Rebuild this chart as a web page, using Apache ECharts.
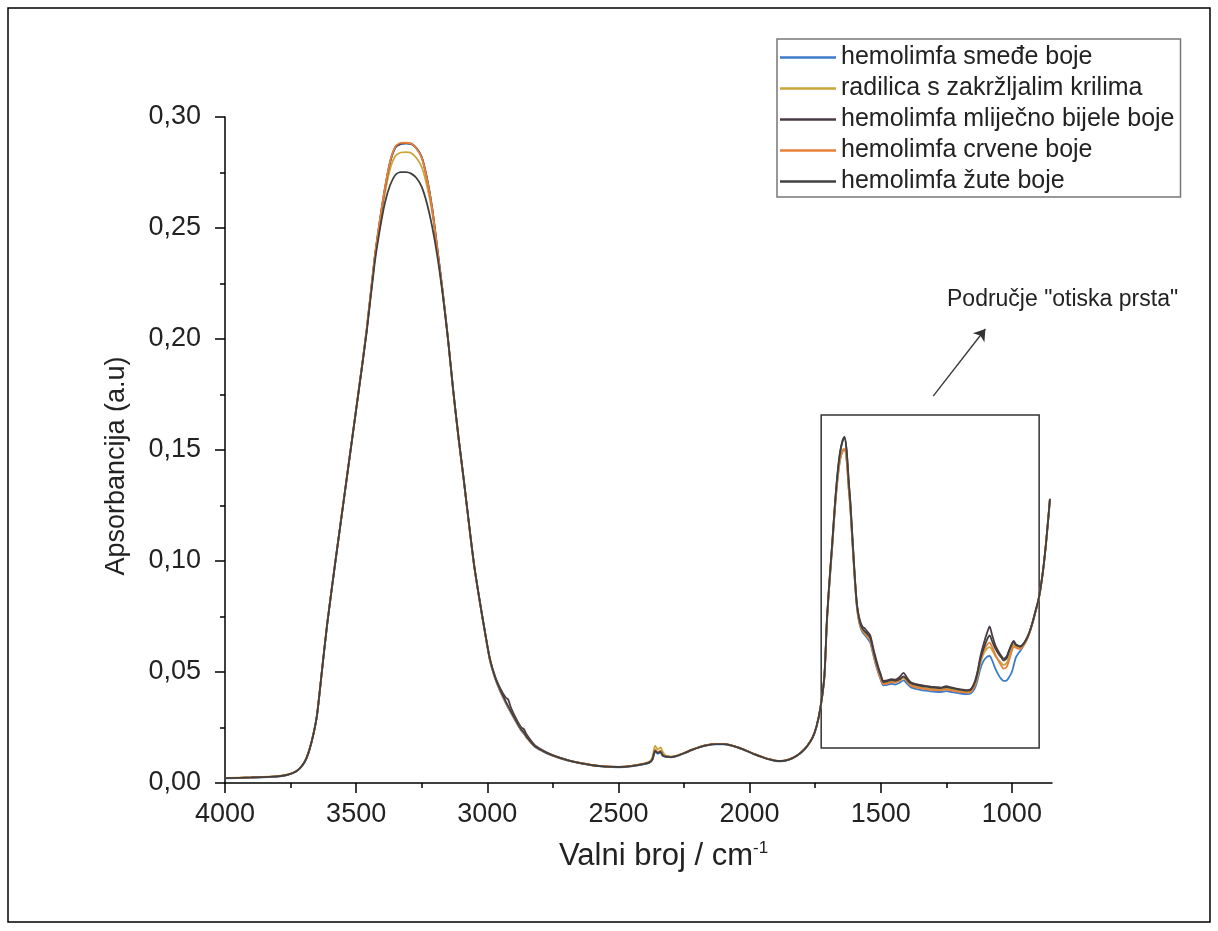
<!DOCTYPE html>
<html>
<head>
<meta charset="utf-8">
<script src="https://cdn.jsdelivr.net/npm/echarts@6/dist/echarts.min.js"></script>
<style>
html,body{margin:0;padding:0;background:#fff;}
#chart{width:1218px;height:931px;}
</style>
</head>
<body>
<div id="chart"></div>
<script>
const seriesNames = ['hemolimfa smeđe boje','radilica s zakržljalim krilima','hemolimfa mliječno bijele boje','hemolimfa crvene boje','hemolimfa žute boje'];
const seriesColors = ['#3d7cc9','#c9a53c','#4b3a45','#e8803a','#404040'];
const xTickValues = [1000,1500,2000,2500,3000,3500,4000];
const xMinorTickValues = [1250,1750,2250,2750,3250,3750];

const wavenumbers = [
4000,3900,3800,3760,3730,3710,3690,3670,3650,3630,
3610,3580,3550,3520,3490,3460,3430,3410,3390,3370,
3350,3330,3310,3290,3270,3250,3230,3210,3190,3170,
3150,3130,3110,3090,3070,3050,3030,3010,2990,2970,
2950,2930,2920,2910,2890,2870,2860,2850,2820,2790,
2760,2720,2680,2640,2600,2550,2500,2450,2400,2380,
2370,2360,2350,2340,2330,2320,2300,2280,2250,2220,
2190,2160,2130,2100,2070,2040,2010,1980,1950,1920,
1900,1880,1860,1840,1820,1800,1780,1760,1745,1730,
1715,1705,1695,1685,1675,1665,1655,1645,1638,1630,
1622,1616,1605,1597,1590,1580,1570,1560,1550,1540,
1525,1510,1500,1490,1475,1460,1445,1430,1413,1400,
1387,1370,1350,1330,1310,1290,1270,1250,1235,1210,
1190,1170,1155,1140,1130,1120,1108,1095,1085,1075,
1063,1050,1040,1032,1020,1010,1000,993,985,975,
968,960,950,940,930,920,910,900,892,880,
870,860,855];

const smedje = [
0.0021,0.0024,0.0029,0.0037,0.0051,0.0071,0.0109,0.0184,0.0298,0.0508,
0.0718,0.0988,0.1248,0.1508,0.1768,0.2038,0.2358,0.2528,0.2678,0.2798,
0.2862,0.2878,0.2880,0.2878,0.2858,0.2818,0.2722,0.2587,0.2402,0.2212,
0.2002,0.1767,0.1557,0.1367,0.1167,0.0977,0.0825,0.0684,0.0552,0.0470,
0.0410,0.0360,0.0338,0.0316,0.0274,0.0235,0.0221,0.0204,0.0164,0.0143,
0.0126,0.0110,0.0097,0.0087,0.0079,0.0073,0.0071,0.0075,0.0085,0.0093,
0.0106,0.0140,0.0132,0.0137,0.0121,0.0118,0.0116,0.0120,0.0133,0.0148,
0.0161,0.0170,0.0174,0.0174,0.0168,0.0157,0.0143,0.0128,0.0115,0.0104,
0.0099,0.0098,0.0101,0.0109,0.0122,0.0140,0.0166,0.0203,0.0252,0.0335,
0.0472,0.0728,0.0905,0.1062,0.1228,0.1362,0.1455,0.1495,0.1500,0.1455,
0.1325,0.1240,0.1025,0.0880,0.0780,0.0712,0.0680,0.0665,0.0650,0.0632,
0.0560,0.0498,0.0465,0.0440,0.0442,0.0447,0.0443,0.0450,0.0462,0.0448,
0.0433,0.0425,0.0420,0.0416,0.0413,0.0411,0.0410,0.0414,0.0411,0.0406,
0.0402,0.0400,0.0405,0.0430,0.0468,0.0515,0.0550,0.0568,0.0572,0.0552,
0.0515,0.0485,0.0468,0.0460,0.0462,0.0478,0.0500,0.0530,0.0565,0.0585,
0.0595,0.0610,0.0630,0.0655,0.0686,0.0726,0.0771,0.0816,0.0865,0.0966,
0.1076,0.1206,0.1276];

const radilica = [
0.0023,0.0026,0.0031,0.0039,0.0053,0.0073,0.0111,0.0186,0.0301,0.0511,
0.0721,0.0991,0.1251,0.1511,0.1770,0.2036,0.2352,0.2518,0.2660,0.2768,
0.2825,0.2840,0.2842,0.2838,0.2815,0.2775,0.2690,0.2570,0.2395,0.2210,
0.2003,0.1768,0.1558,0.1368,0.1168,0.0978,0.0827,0.0686,0.0555,0.0473,
0.0414,0.0364,0.0341,0.0319,0.0277,0.0238,0.0224,0.0206,0.0166,0.0145,
0.0128,0.0111,0.0098,0.0088,0.0080,0.0074,0.0072,0.0077,0.0088,0.0098,
0.0118,0.0168,0.0152,0.0160,0.0138,0.0124,0.0119,0.0122,0.0134,0.0149,
0.0162,0.0171,0.0175,0.0175,0.0169,0.0158,0.0144,0.0129,0.0116,0.0105,
0.0100,0.0099,0.0102,0.0110,0.0123,0.0141,0.0167,0.0204,0.0253,0.0336,
0.0474,0.0730,0.0908,0.1065,0.1232,0.1366,0.1458,0.1498,0.1502,0.1458,
0.1328,0.1243,0.1030,0.0885,0.0786,0.0718,0.0686,0.0672,0.0658,0.0642,
0.0570,0.0508,0.0475,0.0450,0.0452,0.0457,0.0453,0.0460,0.0472,0.0458,
0.0443,0.0436,0.0431,0.0427,0.0424,0.0422,0.0421,0.0425,0.0422,0.0417,
0.0413,0.0411,0.0416,0.0445,0.0485,0.0540,0.0582,0.0605,0.0612,0.0598,
0.0572,0.0552,0.0540,0.0532,0.0540,0.0570,0.0605,0.0625,0.0615,0.0608,
0.0607,0.0614,0.0631,0.0654,0.0686,0.0726,0.0771,0.0816,0.0865,0.0966,
0.1076,0.1206,0.1276];

const mlijecno = [
0.0022,0.0025,0.0030,0.0038,0.0052,0.0072,0.0110,0.0185,0.0300,0.0510,
0.0720,0.0990,0.1250,0.1510,0.1770,0.2040,0.2360,0.2530,0.2680,0.2800,
0.2865,0.2880,0.2882,0.2880,0.2860,0.2820,0.2725,0.2590,0.2405,0.2215,
0.2005,0.1770,0.1560,0.1370,0.1170,0.0980,0.0830,0.0690,0.0560,0.0480,
0.0425,0.0385,0.0375,0.0340,0.0290,0.0250,0.0242,0.0218,0.0172,0.0148,
0.0130,0.0113,0.0099,0.0089,0.0081,0.0075,0.0073,0.0077,0.0087,0.0095,
0.0110,0.0148,0.0138,0.0143,0.0124,0.0120,0.0118,0.0122,0.0135,0.0150,
0.0163,0.0172,0.0176,0.0176,0.0170,0.0159,0.0145,0.0130,0.0117,0.0106,
0.0101,0.0100,0.0103,0.0111,0.0124,0.0142,0.0168,0.0205,0.0255,0.0340,
0.0480,0.0740,0.0920,0.1080,0.1250,0.1390,0.1490,0.1545,0.1560,0.1500,
0.1360,0.1270,0.1050,0.0900,0.0800,0.0735,0.0705,0.0695,0.0680,0.0665,
0.0590,0.0525,0.0490,0.0460,0.0462,0.0468,0.0465,0.0475,0.0496,0.0475,
0.0455,0.0447,0.0442,0.0437,0.0434,0.0432,0.0430,0.0436,0.0432,0.0425,
0.0421,0.0418,0.0425,0.0462,0.0508,0.0570,0.0625,0.0675,0.0705,0.0665,
0.0620,0.0590,0.0572,0.0560,0.0570,0.0600,0.0628,0.0640,0.0625,0.0618,
0.0616,0.0622,0.0638,0.0660,0.0690,0.0730,0.0775,0.0820,0.0869,0.0970,
0.1080,0.1210,0.1280];

const crvene = [
0.0022,0.0025,0.0030,0.0038,0.0052,0.0072,0.0110,0.0185,0.0300,0.0510,
0.0722,0.0993,0.1253,0.1513,0.1773,0.2043,0.2363,0.2533,0.2683,0.2803,
0.2868,0.2883,0.2884,0.2880,0.2858,0.2816,0.2720,0.2585,0.2400,0.2210,
0.2000,0.1765,0.1555,0.1365,0.1165,0.0976,0.0826,0.0686,0.0555,0.0474,
0.0415,0.0366,0.0343,0.0321,0.0279,0.0240,0.0225,0.0207,0.0167,0.0146,
0.0129,0.0112,0.0099,0.0089,0.0081,0.0075,0.0073,0.0077,0.0087,0.0095,
0.0109,0.0150,0.0139,0.0145,0.0125,0.0121,0.0118,0.0122,0.0135,0.0150,
0.0163,0.0172,0.0176,0.0176,0.0170,0.0159,0.0145,0.0130,0.0117,0.0106,
0.0101,0.0100,0.0103,0.0111,0.0124,0.0142,0.0168,0.0205,0.0254,0.0338,
0.0476,0.0733,0.0910,0.1068,0.1235,0.1368,0.1460,0.1500,0.1505,0.1460,
0.1330,0.1245,0.1032,0.0888,0.0790,0.0722,0.0690,0.0676,0.0662,0.0646,
0.0568,0.0505,0.0470,0.0446,0.0448,0.0454,0.0452,0.0462,0.0478,0.0460,
0.0440,0.0432,0.0427,0.0423,0.0420,0.0418,0.0417,0.0421,0.0418,0.0413,
0.0409,0.0407,0.0412,0.0444,0.0490,0.0548,0.0595,0.0622,0.0632,0.0612,
0.0578,0.0548,0.0528,0.0515,0.0522,0.0555,0.0595,0.0615,0.0610,0.0604,
0.0604,0.0612,0.0630,0.0654,0.0686,0.0726,0.0771,0.0816,0.0865,0.0966,
0.1076,0.1206,0.1276];

const zute = [
0.0022,0.0025,0.0030,0.0038,0.0052,0.0072,0.0110,0.0185,0.0300,0.0510,
0.0720,0.0990,0.1250,0.1510,0.1768,0.2030,0.2335,0.2490,0.2615,0.2695,
0.2740,0.2752,0.2752,0.2745,0.2725,0.2685,0.2610,0.2505,0.2370,0.2200,
0.2000,0.1770,0.1560,0.1370,0.1170,0.0980,0.0828,0.0688,0.0558,0.0475,
0.0418,0.0368,0.0345,0.0323,0.0280,0.0240,0.0226,0.0208,0.0168,0.0146,
0.0129,0.0112,0.0098,0.0088,0.0080,0.0074,0.0072,0.0076,0.0086,0.0094,
0.0108,0.0145,0.0136,0.0141,0.0123,0.0119,0.0117,0.0121,0.0134,0.0149,
0.0162,0.0171,0.0175,0.0175,0.0169,0.0158,0.0144,0.0129,0.0116,0.0105,
0.0100,0.0099,0.0102,0.0110,0.0123,0.0141,0.0167,0.0204,0.0254,0.0338,
0.0478,0.0738,0.0918,0.1078,0.1248,0.1388,0.1488,0.1542,0.1555,0.1495,
0.1355,0.1265,0.1045,0.0895,0.0795,0.0728,0.0695,0.0682,0.0670,0.0655,
0.0582,0.0518,0.0484,0.0455,0.0458,0.0464,0.0460,0.0466,0.0480,0.0466,
0.0450,0.0443,0.0438,0.0434,0.0431,0.0429,0.0428,0.0432,0.0429,0.0423,
0.0419,0.0416,0.0422,0.0456,0.0500,0.0558,0.0605,0.0645,0.0665,0.0638,
0.0605,0.0580,0.0565,0.0552,0.0562,0.0595,0.0625,0.0636,0.0622,0.0616,
0.0614,0.0620,0.0636,0.0658,0.0689,0.0728,0.0773,0.0818,0.0867,0.0968,
0.1078,0.1208,0.1278];

// annotation: fingerprint region box and arrow (data coordinates)
const fingerprintBox = [[1727, 0.0158], [896, 0.1658]];
const arrowLine = [[1300, 0.1743], [1101, 0.2045]];
const annotationText = 'Područje "otiska prsta"';

const allSeries = [smedje, radilica, mlijecno, crvene, zute];
const FONT = '"Liberation Sans", Arial, sans-serif';

const chart = echarts.init(document.getElementById('chart'), null, {renderer: 'canvas'});

const series = allSeries.map((vals, i) => {
  const s = {
    name: seriesNames[i],
    type: 'line',
    xAxisIndex: 0,
    data: wavenumbers.map((w, k) => [w, vals[k]]),
    showSymbol: false,
    smooth: 0.25,
    lineStyle: {width: 1.8, color: seriesColors[i]},
    itemStyle: {color: seriesColors[i]},
    z: 2 + i
  };
  if (i === 0) {
    s.markArea = {
      silent: true,
      itemStyle: {color: 'rgba(0,0,0,0)', borderColor: '#333', borderWidth: 1.5},
      data: [[{coord: fingerprintBox[0]}, {coord: fingerprintBox[1]}]]
    };
    s.markLine = {
      silent: true,
      symbol: ['none', 'arrow'],
      symbolSize: 11,
      label: {show: false},
      lineStyle: {color: '#333', width: 1.3, type: 'solid'},
      data: [[{coord: arrowLine[0]}, {coord: arrowLine[1]}]]
    };
  }
  return s;
});

const option = {
  animation: false,
  backgroundColor: '#fff',
  textStyle: {fontFamily: FONT},
  grid: {left: 225, right: 166, top: 117, bottom: 148},
  legend: {
    data: seriesNames,
    orient: 'vertical',
    left: 777,
    top: 39,
    padding: [6, 6, 3, 3],
    itemWidth: 56,
    itemHeight: 2.5,
    itemGap: 6,
    icon: 'rect',
    borderColor: '#777',
    borderWidth: 1.5,
    textStyle: {fontSize: 25, lineHeight: 25, color: '#222', fontFamily: FONT}
  },
  xAxis: [{
    type: 'value',
    min: 847,
    max: 4000,
    inverse: true,
    name: 'Valni broj / cm{sup|-1}',
    nameLocation: 'middle',
    nameGap: 57,
    nameTextStyle: {fontSize: 31, color: '#222', fontFamily: FONT, padding: [0, 0, 0, 50],
      rich: {sup: {fontSize: 17, color: '#222', padding: [0, 0, 16, 0], fontFamily: FONT}}},
    axisLine: {lineStyle: {color: '#000', width: 1.5}},
    axisTick: {customValues: xTickValues, length: 10, lineStyle: {color: '#000', width: 1.5}},
    axisLabel: {customValues: xTickValues, fontSize: 27, margin: 18, color: '#222', fontFamily: FONT,
      formatter: v => String(v)},
    splitLine: {show: false}
  }, {
    type: 'value',
    min: 847,
    max: 4000,
    inverse: true,
    position: 'bottom',
    axisLine: {show: false},
    axisTick: {customValues: xMinorTickValues, length: 5, lineStyle: {color: '#000', width: 1.5}},
    axisLabel: {show: false},
    splitLine: {show: false}
  }],
  yAxis: {
    type: 'value',
    min: 0,
    max: 0.30,
    interval: 0.05,
    name: 'Apsorbancija (a.u)',
    nameLocation: 'middle',
    nameGap: 95,
    nameTextStyle: {fontSize: 27, color: '#222', fontFamily: FONT, padding: [0, 32, 0, 0]},
    axisLine: {show: true, lineStyle: {color: '#000', width: 1.5}},
    axisTick: {show: true, length: 10, lineStyle: {color: '#000', width: 1.5}},
    minorTick: {show: true, splitNumber: 2, length: 5, lineStyle: {color: '#000', width: 1.5}},
    axisLabel: {fontSize: 27, margin: 24, color: '#222', fontFamily: FONT,
      formatter: v => v.toFixed(2).replace('.', ',')},
    splitLine: {show: false},
    minorSplitLine: {show: false}
  },
  graphic: [
    {type: 'rect', silent: true, z: -1,
     shape: {x: 8, y: 8, width: 1202, height: 914},
     style: {fill: 'none', stroke: '#000', lineWidth: 1.5}},
    {type: 'text', left: 947, top: 288, silent: true,
     style: {text: annotationText, fontSize: 23, fill: '#222', fontFamily: FONT}}
  ],
  series: series
};
chart.setOption(option);
</script>
</body>
</html>
